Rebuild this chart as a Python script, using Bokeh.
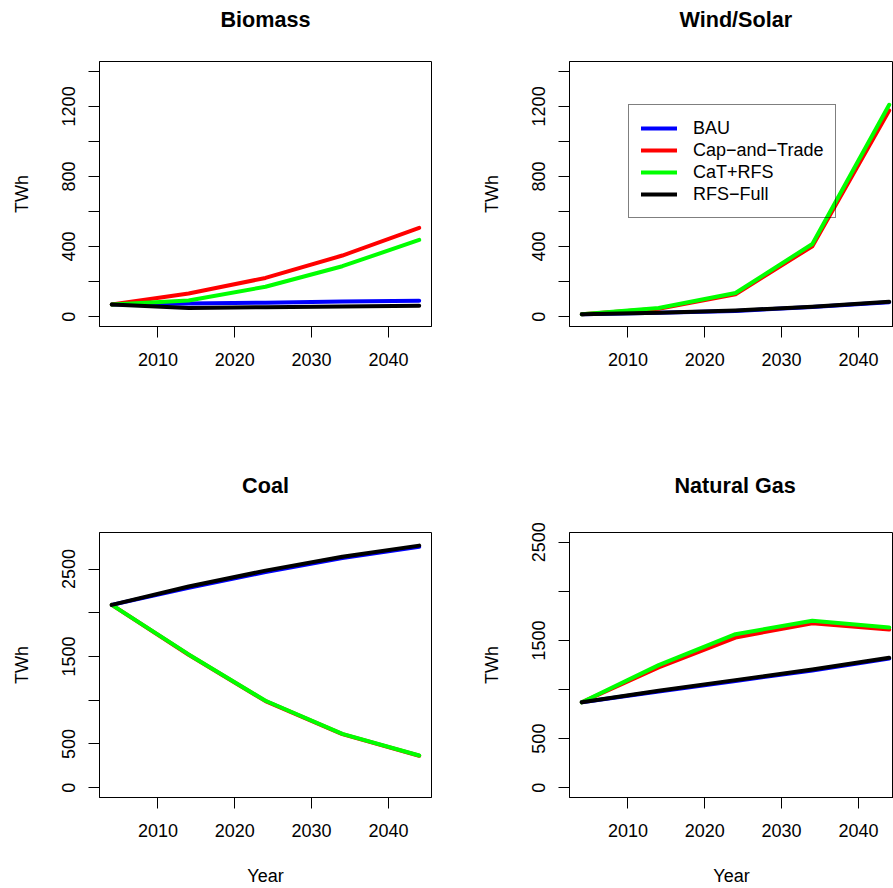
from bokeh.plotting import figure
from bokeh.models import Legend, LegendItem, FixedTicker, Range1d, Title
from bokeh.layouts import column, row
from bokeh.embed import file_html
from bokeh.resources import INLINE

# ---------------- data ----------------
years = [2004, 2014, 2024, 2034, 2044]
scenarios = ["BAU", "Cap\u2212and\u2212Trade", "CaT+RFS", "RFS\u2212Full"]
colors = ["#0000FF", "#FF0000", "#00FF00", "#000000"]
x_ticks = [2010, 2020, 2030, 2040]

biomass_bau = [70, 75, 80, 86, 91]
biomass_cat = [70, 132, 221, 349, 507]
biomass_catrfs = [70, 92, 171, 288, 438]
biomass_rfs = [70, 50, 54, 58, 62]

wind_bau = [14, 22, 33, 55, 83]
wind_cat = [14, 45, 128, 402, 1177]
wind_catrfs = [14, 50, 135, 415, 1209]
wind_rfs = [14, 22, 35, 57, 85]

coal_bau = [2090, 2285, 2465, 2625, 2755]
coal_cat = [2090, 1520, 990, 612, 365]
coal_catrfs = [2090, 1524, 994, 615, 368]
coal_rfs = [2090, 2300, 2482, 2640, 2768]

gas_bau = [870, 980, 1088, 1195, 1315]
gas_cat = [870, 1225, 1530, 1676, 1611]
gas_catrfs = [870, 1249, 1564, 1700, 1632]
gas_rfs = [870, 987, 1096, 1204, 1323]

small_ticks = [0, 200, 400, 600, 800, 1000, 1200, 1400]
small_labels = ["0", "", "400", "", "800", "", "1200", ""]
big_ticks = [0, 500, 1000, 1500, 2000, 2500]
big_labels = ["0", "500", "", "1500", "", "2500"]

FONT = "Liberation Sans"


def make_panel(title, series, y_ticks, y_labels, y_range, x_range,
               width, height, mb_left, mb_right, mb_top, mb_bottom,
               title_standoff, spacer_standoff=None,
               title_align="center", title_offset=0,
               year_label=False, legend_loc=None):
    p = figure(width=width, height=height,
               x_range=Range1d(*x_range), y_range=Range1d(*y_range),
               output_backend="svg", toolbar_location=None,
               min_border_left=mb_left, min_border_right=mb_right,
               min_border_top=mb_top, min_border_bottom=mb_bottom)
    p.background_fill_color = "white"
    p.border_fill_color = "white"
    p.outline_line_color = "black"
    p.outline_line_width = 1
    p.xgrid.visible = False
    p.ygrid.visible = False

    p.title = Title(text=title, align=title_align, offset=title_offset,
                    vertical_align="top",
                    text_font=FONT, text_font_size="21.6px",
                    text_font_style="bold", text_color="black",
                    standoff=title_standoff)
    if spacer_standoff is not None:
        # an empty spacer between the frame and the title pushes the title upward
        p.add_layout(Title(text=" ", text_font_size="2px", standoff=spacer_standoff), "above")

    for ax in (p.xaxis[0], p.yaxis[0]):
        ax.axis_line_color = "black"
        ax.major_tick_line_color = "black"
        ax.minor_tick_line_color = None
        ax.major_tick_out = 11
        ax.major_tick_in = 0
        ax.major_label_text_font = FONT
        ax.major_label_text_font_size = "18px"
        ax.major_label_text_color = "black"

    p.xaxis.ticker = FixedTicker(ticks=x_ticks)
    p.xaxis.major_label_standoff = 15
    if year_label:
        p.xaxis.axis_label = "Year"
        p.xaxis.axis_label_text_font = FONT
        p.xaxis.axis_label_text_font_size = "18px"
        p.xaxis.axis_label_text_font_style = "normal"
        p.xaxis.axis_label_text_color = "black"
        p.xaxis.axis_label_standoff = 26

    p.yaxis.ticker = FixedTicker(ticks=y_ticks)
    p.yaxis.major_label_overrides = {t: lab for t, lab in zip(y_ticks, y_labels)}
    p.yaxis.major_label_orientation = "vertical"
    p.yaxis.major_label_standoff = 13
    p.yaxis.axis_label = "TWh"
    p.yaxis.axis_label_text_font = FONT
    p.yaxis.axis_label_text_font_size = "18px"
    p.yaxis.axis_label_text_font_style = "normal"
    p.yaxis.axis_label_text_color = "black"
    p.yaxis.axis_label_standoff = 28

    renderers = []
    for vals, col in zip(series, colors):
        r = p.line(years, vals, line_color=col, line_width=4,
                   line_cap="round", line_join="round")
        renderers.append(r)

    if legend_loc is not None:
        items = [LegendItem(label=s, renderers=[r]) for s, r in zip(scenarios, renderers)]
        leg = Legend(items=items, location=legend_loc)
        leg.label_text_font = FONT
        leg.label_text_font_size = "18px"
        leg.label_text_color = "black"
        leg.glyph_width = 36
        leg.glyph_height = 22
        leg.label_height = 22
        leg.spacing = 0
        leg.padding = 12
        leg.label_standoff = 16
        leg.border_line_color = "black"
        leg.border_line_width = 1
        leg.background_fill_alpha = 0
        p.add_layout(leg, "center")
    return p


xl = (2002.4, 2045.6)
xr = (2002.4, 2002.4 + 324 / 7.685)

p1 = make_panel("Biomass", [biomass_bau, biomass_cat, biomass_catrfs, biomass_rfs],
                small_ticks, small_labels, (-56, 1456), xl,
                450, 440, 99, 19, 61, 114, 8, spacer_standoff=20)
p2 = make_panel("Wind/Solar", [wind_bau, wind_cat, wind_catrfs, wind_rfs],
                small_ticks, small_labels, (-56, 1456), xr,
                443, 440, 119, 0, 61, 114, 8, spacer_standoff=20,
                title_align="left", title_offset=110, legend_loc=(59, 108))
p3 = make_panel("Coal", [coal_bau, coal_cat, coal_catrfs, coal_rfs],
                big_ticks, big_labels, (-112, 2918), xl,
                450, 448, 99, 19, 91, 91, 65, year_label=True)
p4 = make_panel("Natural Gas", [gas_bau, gas_cat, gas_catrfs, gas_rfs],
                big_ticks, big_labels, (-100, 2600), xr,
                443, 448, 119, 0, 91, 91, 65,
                title_align="left", title_offset=105, year_label=True)

layout = column(row(p1, p2), row(p3, p4))
open("out.html", "w").write(file_html(layout, INLINE))
